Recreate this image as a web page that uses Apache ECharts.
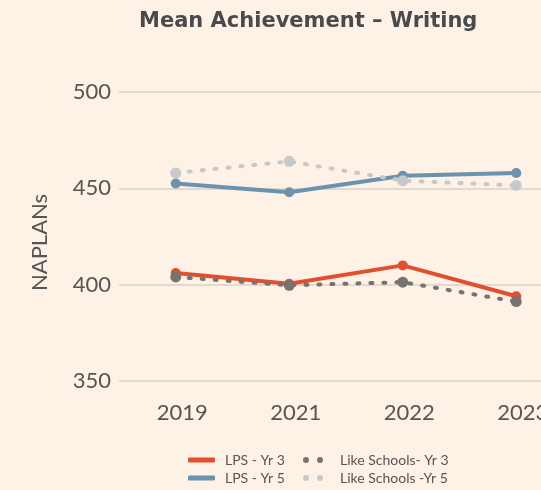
<!DOCTYPE html>
<html><head><meta charset="utf-8">
<style>html,body{margin:0;padding:0;background:#fef1e5;overflow:hidden;width:541px;height:490px;}#c{width:573px;height:490px;}</style>
<script src="https://cdn.jsdelivr.net/npm/echarts@6/dist/echarts.min.js"></script>
</head><body><div id="c"></div>
<script>
var years = ['2019', '2021', '2022', '2023'];
var lpsYr3 = [406, 400.5, 410, 394];
var lpsYr5 = [452.5, 448, 456.5, 458];
var likeYr3 = [404, 399.7, 401.3, 391.2];
var likeYr5 = [458, 464, 454, 451.5];
var yTicks = { min: 350, max: 500, interval: 50 };

var cRed = '#e0502f', cBlue = '#6a93ad', cDark = '#777370', cLight = '#c6c8ca';
var dotIcon = 'path://M0,3a3,3 0 1,0 6,0a3,3 0 1,0 -6,0ZM14,3a3,3 0 1,0 6,0a3,3 0 1,0 -6,0Z';

var chart = echarts.init(document.getElementById('c'));
function solid(name, data, color) {
  return { name: name, type: 'line', data: data, symbol: 'circle', symbolSize: 10,
    itemStyle: { color: color }, lineStyle: { color: color, width: 4, cap: 'round' }, animation: false };
}
function dotted(name, data, color, size) {
  return { name: name, type: 'line', data: data, symbol: 'circle', symbolSize: size,
    itemStyle: { color: color }, lineStyle: { color: color, width: 4, type: [2, 11], cap: 'round' }, animation: false };
}
function lg(name, left, top, solidIcon) {
  return { left: left, top: top, padding: 0, itemWidth: solidIcon ? 27 : 20, itemHeight: solidIcon ? 5 : 6,
    textStyle: { color: '#555555', fontSize: 14, fontFamily: 'Lato', padding: [0, 0, 0, solidIcon ? 5 : 12] },
    data: [{ name: name, icon: solidIcon ? 'roundRect' : dotIcon }] };
}
chart.setOption({
  backgroundColor: '#fef1e5',
  title: { text: 'Mean Achievement \u2013 Writing', left: 139, top: 11, padding: 0,
    textStyle: { color: '#4a4a4d', fontSize: 21, fontWeight: 'bold', fontFamily: 'DejaVu Sans' } },
  grid: { left: 119, right: 0, top: 92, bottom: 109 },
  legend: [
    lg('LPS - Yr 3', 188, 453, true),
    lg('Like Schools- Yr 3', 303, 453, false),
    lg('LPS - Yr 5', 188, 471, true),
    lg('Like Schools -Yr 5', 303, 471, false)
  ],
  xAxis: { type: 'category', data: years, boundaryGap: true,
    axisLine: { show: false }, axisTick: { show: false },
    axisLabel: { color: '#555555', fontSize: 22, fontFamily: 'Lato', margin: 21, padding: [0, 0, 0, 13] } },
  yAxis: { type: 'value', min: yTicks.min, max: yTicks.max, interval: yTicks.interval,
    name: 'NAPLANs', nameLocation: 'middle', nameGap: 68, nameRotate: 90,
    nameTextStyle: { color: '#555555', fontSize: 22, fontFamily: 'Lato', padding: [0, 12, 0, 0] },
    axisLine: { show: false }, axisTick: { show: false },
    axisLabel: { color: '#555555', fontSize: 22, fontFamily: 'Lato', margin: 8 },
    splitLine: { lineStyle: { color: '#dccfc3', width: 1.5 } } },
  series: [
    solid('LPS - Yr 3', lpsYr3, cRed),
    solid('LPS - Yr 5', lpsYr5, cBlue),
    dotted('Like Schools- Yr 3', likeYr3, cDark, 11),
    dotted('Like Schools -Yr 5', likeYr5, cLight, 11)
  ]
});
</script></body></html>
